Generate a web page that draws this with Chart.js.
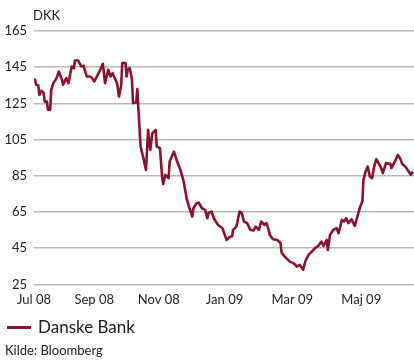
<!DOCTYPE html>
<html>
<head>
<meta charset="utf-8">
<script src="https://cdn.jsdelivr.net/npm/chart.js@4/dist/chart.umd.min.js"></script>
<style>
  body { margin: 0; background: #fff; font-family: Lato, "DejaVu Sans", sans-serif; color: #222; }
  #wrap { position: relative; width: 414px; height: 360px; overflow: hidden; }
  #plot { position: absolute; left: 0; top: 0; width: 414px; height: 318px; }
  #unit { position: absolute; left: 33px; top: 7px; font-size: 13px; }
  #legend { position: absolute; left: 7px; top: 316px; font-size: 17px; line-height: 22px; }
  #legend .key { display: inline-block; width: 24px; height: 3px; background: #8c1230; vertical-align: middle; margin-right: 7px; position: relative; top: -1px; }
  #source { position: absolute; left: 5px; top: 342px; font-size: 13px; line-height: 17px; }
</style>
</head>
<body>
<div id="wrap">
  <div id="plot"><canvas id="chart"></canvas></div>
  <div id="unit">DKK</div>
  <div id="legend"><span class="key"></span>Danske Bank</div>
  <div id="source">Kilde: Bloomberg</div>
</div>
<script>
// data (days since 1 Jul 2008, closing price in DKK)
const days = [0, 1, 2, 4, 5, 7, 9, 10, 12, 13, 15, 16, 18, 21, 23, 26, 27, 30, 32, 35, 37, 38, 41, 44, 46, 49, 52, 54, 56, 60,
  64, 66, 69, 71, 73, 75, 77, 79, 81, 82, 85, 86, 87, 89, 91, 92, 95, 96, 97, 99, 102, 104, 106, 108, 110, 113, 114, 117, 119, 120,
  122, 125, 126, 130, 133, 136, 139, 142, 145, 147, 148, 151, 153, 156, 159, 161, 162, 165, 167, 171, 175, 179, 182, 184, 185, 188, 191, 193, 195, 198,
  201, 204, 206, 209, 211, 214, 216, 218, 219, 222, 226, 229, 230, 233, 236, 238, 241, 243, 244, 247, 250, 252, 255, 258, 261, 264, 267, 269, 272, 273,
  275, 278, 281, 283, 286, 288, 290, 292, 295, 298, 300, 303, 305, 306, 308, 310, 312, 314, 316, 318, 320, 322, 324, 327, 331, 332, 336, 338, 340, 342,
  345, 348, 350, 352];
const prices = [138.6, 138, 135.3, 135, 129.7, 132, 130.7, 126, 126, 121.5, 121.5, 132.5, 136.2, 139, 142.6, 138, 135.3, 139, 136.2, 145.4, 144.5, 148.7, 148.7, 145.4, 145.8, 139.9, 139.9, 139, 137.1, 141.7,
  146.9, 136.2, 143.6, 139.9, 141.7, 139, 136.5, 128.8, 135.3, 147.3, 147.3, 139.9, 143.6, 144.5, 138, 125.2, 125.5, 132.9, 121.5, 101.2, 93.8, 88.3, 110.4, 99.4, 108.6, 110.4, 101.2, 100.3, 84.6, 80.5,
  85.6, 83.7, 92.9, 98.4, 92.9, 88.3, 81.9, 72, 66, 62.5, 67, 69.9, 70.2, 67.1, 66.2, 61.6, 64.4, 65.3, 61.6, 57.9, 56.1, 49.6, 51.5, 51.5, 55.2, 57, 65.3, 64.4, 59.8, 58.9,
  55.2, 54.8, 57, 55.2, 59.8, 57.9, 58.9, 55.2, 52.4, 50, 49.6, 47.8, 42.6, 40.4, 38.6, 37.5, 36.8, 35.8, 34.9, 35.8, 33.1, 37.7, 41.4, 43.2, 45, 46.3, 48.7, 46.3, 49.6, 44.1,
  52.4, 55.2, 56.1, 53.3, 60.7, 59.8, 61.6, 58.9, 61, 57.4, 61.6, 68, 70.8, 82.8, 87.4, 90.1, 84.6, 83.7, 90.1, 94.2, 92, 90.1, 86.5, 92, 91.6, 89.3, 93.8, 96.6, 94.8, 91.6,
  90.1, 87.4, 85.6, 87.4];

// x axis ticks
const tickLabels = ['Jul 08', 'Sep 08', 'Nov 08', 'Jan 09', 'Mar 09', 'Maj 09'];
const tickDays = [0, 56, 116, 177, 240, 304];
const yTicks = [25, 45, 65, 85, 105, 125, 145, 165];

const lineColor = '#8c1230';
const font = { family: 'Lato, "DejaVu Sans", sans-serif', size: 13 };

const chart = new Chart(
  document.getElementById('chart'),
  {
    type: 'line',
    data: {
      datasets: [
        {
          label: 'Danske Bank',
          data: days.map((d, i) => ({ x: d, y: prices[i] })),
          borderColor: lineColor,
          borderWidth: 2.6,
          pointRadius: 0,
          tension: 0,
          borderJoinStyle: 'round'
        }
      ]
    },
    options: {
      responsive: true,
      maintainAspectRatio: false,
      animation: false,
      layout: { padding: { top: 31, right: 0, left: 0, bottom: 0 } },
      plugins: {
        legend: { display: false },
        tooltip: { enabled: false }
      },
      scales: {
        x: {
          type: 'linear',
          min: 0,
          max: 353,
          border: { display: false },
          grid: { display: false, drawTicks: false },
          afterBuildTicks: (scale) => {
            scale.ticks = tickDays.map(v => ({ value: v }));
          },
          afterFit: (scale) => {
            scale.height = 33.5;
          },
          ticks: {
            autoSkip: false,
            maxRotation: 0,
            padding: 8,
            color: '#222',
            font: font,
            callback: (value) => tickLabels[tickDays.indexOf(value)]
          }
        },
        y: {
          min: 25,
          max: 165,
          border: { display: false },
          grid: { color: '#b9b9b9', lineWidth: 1.6, drawTicks: false },
          afterBuildTicks: (scale) => {
            scale.ticks = yTicks.map(v => ({ value: v }));
          },
          afterFit: (scale) => {
            scale.width = 34;
          },
          ticks: {
            padding: 7,
            color: '#222',
            font: font
          }
        }
      }
    }
  }
);
</script>
</body>
</html>
